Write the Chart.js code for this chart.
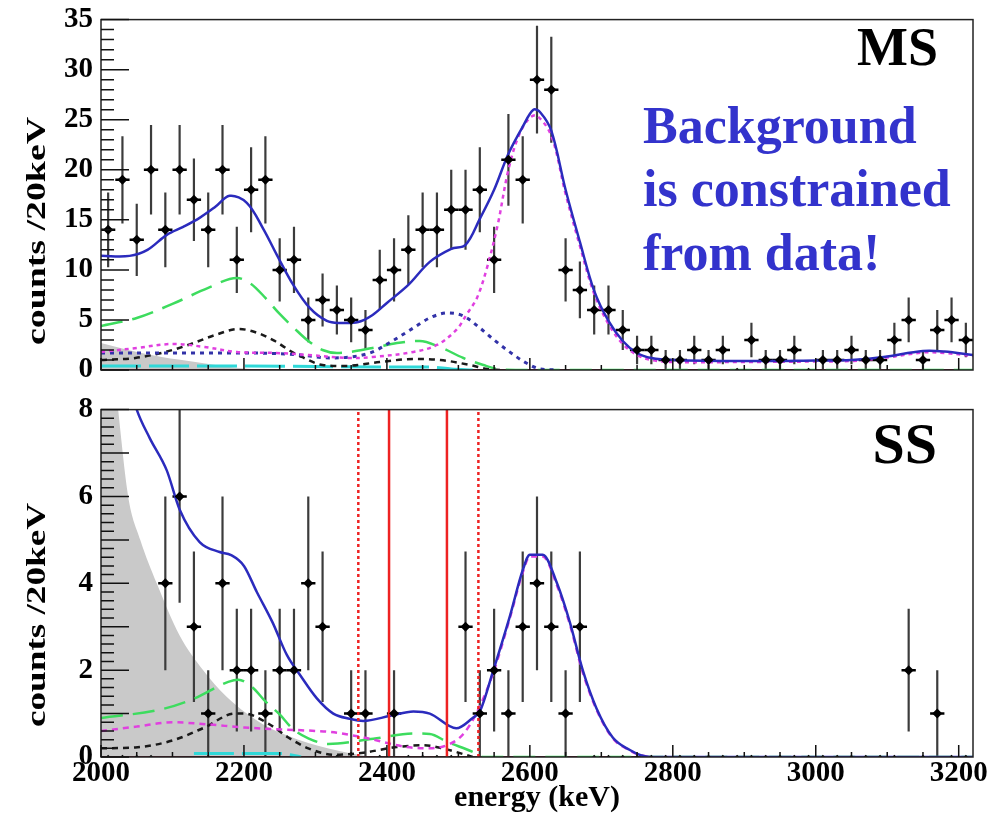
<!DOCTYPE html>
<html>
<head>
<meta charset="utf-8">
<script src="https://cdn.jsdelivr.net/npm/chart.js@4.4.1/dist/chart.umd.min.js"></script>
<style>
  body { margin: 0; background: #fff; }
  #wrap { position: relative; width: 1005px; height: 818px; }
  canvas { position: absolute; left: 0; }
  #ms { top: 0; }
  #ss { top: 390px; }
</style>
</head>
<body>
<div id="wrap">
  <canvas id="ms" width="1005" height="390"></canvas>
  <canvas id="ss" width="1005" height="428"></canvas>
</div>
<script>
// ---------------------------------------------- DATOS -------------------------------------

// bin centres (20 keV bins)
const binCenters = [
  2010, 2030, 2050, 2070, 2090, 2110, 2130, 2150, 2170, 2190,
  2210, 2230, 2250, 2270, 2290, 2310, 2330, 2350, 2370, 2390,
  2410, 2430, 2450, 2470, 2490, 2510, 2530, 2550, 2570, 2590,
  2610, 2630, 2650, 2670, 2690, 2710, 2730, 2750, 2770, 2790,
  2810, 2830, 2850, 2870, 2890, 2910, 2930, 2950, 2970, 2990,
  3010, 3030, 3050, 3070, 3090, 3110, 3130, 3150, 3170, 3190,
  3210
];

const msCounts = [
  14, 19, 13, 20, 14, 20, 17, 14, 20, 11,
  18, 19, 10, 11, 5, 7, 6, 5, 4, 9,
  10, 12, 14, 14, 16, 16, 18, 11, 21, 19,
  29, 28, 10, 8, 6, 6, 4, 2, 2, 1,
  1, 2, 1, 2, 0, 3, 1, 1, 2, 0,
  1, 1, 2, 1, 1, 3, 5, 1, 4, 5,
  3
];

const ssCounts = [
  0, 0, 0, 0, 4, 6, 3, 1, 4, 2,
  2, 1, 2, 2, 4, 3, 0, 1, 1, 0,
  1, 0, 0, 0, 0, 3, 1, 2, 1, 3,
  4, 3, 1, 3, 0, 0, 0, 0, 0, 0,
  0, 0, 0, 0, 0, 0, 0, 0, 0, 0,
  0, 0, 0, 0, 0, 0, 2, 0, 1, 0,
  0
];

// fit curves, [keV, counts/20keV]
const msTotal = [[2000, 11.4], [2040, 11.4], [2065, 12.0], [2092, 13.5], [2115, 14.3], [2138, 15.2], [2160, 16.3], [2180, 17.4], [2204, 16.7], [2227, 14.1], [2246, 11.5], [2269, 8.5], [2292, 6.2], [2316, 4.9], [2335, 4.7], [2360, 4.8], [2380, 5.5], [2400, 6.7], [2430, 8.5], [2460, 10.8], [2490, 12.1], [2510, 12.5], [2530, 15.1], [2550, 18.0], [2570, 21.6], [2590, 24.3], [2605, 26.0], [2615, 25.7], [2630, 23.9], [2650, 18.0], [2670, 12.8], [2690, 7.9], [2710, 4.9], [2730, 2.9], [2750, 1.7], [2770, 1.2], [2800, 1.0], [2900, 0.9], [3000, 0.95], [3050, 1.0], [3095, 1.3], [3150, 1.9], [3180, 1.85], [3220, 1.5]];
const msPink = [[2000, 1.8], [2050, 2.2], [2100, 2.6], [2145, 2.3], [2190, 1.8], [2245, 1.7], [2290, 1.5], [2345, 1.2], [2380, 1.3], [2437, 1.8], [2470, 2.5], [2497, 4.0], [2512, 5.6], [2526, 7.2], [2540, 10.2], [2555, 14.5], [2570, 20.0], [2585, 23.5], [2600, 25.2], [2610, 25.4], [2630, 23.4], [2650, 17.6], [2670, 12.4], [2690, 7.6], [2710, 4.6], [2730, 2.6], [2750, 1.5], [2770, 1.0], [2800, 0.8], [2900, 0.8], [3000, 0.85], [3050, 0.9], [3095, 1.2], [3150, 1.75], [3180, 1.7], [3220, 1.4]];
const msNavy = [[2000, 1.7], [2100, 1.7], [2200, 1.7], [2280, 1.5], [2320, 1.2], [2376, 1.7], [2410, 3.0], [2437, 4.2], [2460, 5.2], [2485, 5.7], [2507, 5.4], [2530, 4.2], [2550, 3.0], [2568, 2.0], [2595, 0.7], [2615, 0.1], [2640, 0]];
const msGreen = [[2000, 4.4], [2050, 5.2], [2100, 6.6], [2150, 8.2], [2190, 9.2], [2210, 8.6], [2230, 7.2], [2250, 5.6], [2270, 4.2], [2290, 2.9], [2310, 2.0], [2330, 1.7], [2380, 2.2], [2414, 2.7], [2446, 2.9], [2474, 2.3], [2507, 1.2], [2535, 0.5], [2555, 0.1], [2580, 0], [3220, 0]];
const msBlack = [[2000, 1.0], [2048, 1.2], [2090, 1.8], [2122, 2.5], [2160, 3.5], [2192, 4.1], [2215, 3.8], [2243, 2.9], [2265, 1.9], [2281, 1.3], [2310, 0.5], [2340, 0.4], [2390, 0.8], [2437, 1.1], [2475, 1.0], [2516, 0.5], [2540, 0.1], [2560, 0]];
const msCyan = [[2000, 0.4], [2200, 0.4], [2300, 0.35], [2400, 0.3], [2460, 0.3], [2490, 0.1], [2520, 0]];
const msGrey = [[2000, 2.7], [2038, 2.0], [2085, 1.3], [2132, 0.8], [2160, 0.5], [2200, 0.15], [2230, 0]];

const ssTotal = [[2000, 10.8], [2030, 9.2], [2050, 8.0], [2068, 7.35], [2092, 6.6], [2110, 5.7], [2138, 4.95], [2166, 4.72], [2182, 4.65], [2200, 4.4], [2218, 3.8], [2240, 3.1], [2260, 2.35], [2278, 1.9], [2302, 1.35], [2325, 1.0], [2348, 0.88], [2367, 0.83], [2405, 0.95], [2437, 1.05], [2460, 1.0], [2497, 0.66], [2520, 0.9], [2530, 1.05], [2548, 1.95], [2572, 3.24], [2590, 4.3], [2600, 4.66], [2618, 4.66], [2638, 4.0], [2656, 3.1], [2674, 2.0], [2693, 1.13], [2716, 0.45], [2740, 0.16], [2755, 0.04], [2770, 0], [3220, 0]];
const ssPink = [[2000, 0.6], [2050, 0.7], [2100, 0.8], [2150, 0.75], [2200, 0.68], [2300, 0.6], [2320, 0.58], [2367, 0.45], [2428, 0.23], [2460, 0.2], [2488, 0.3], [2507, 0.53], [2525, 1.0], [2548, 1.9], [2572, 3.2], [2590, 4.25], [2600, 4.62], [2618, 4.62], [2638, 3.95], [2656, 3.05], [2674, 1.95], [2693, 1.1], [2716, 0.43], [2740, 0.15], [2755, 0.04], [2770, 0]];
const ssGreen = [[2000, 0.9], [2085, 1.1], [2131, 1.35], [2178, 1.73], [2192, 1.78], [2212, 1.6], [2230, 1.28], [2250, 0.98], [2268, 0.65], [2290, 0.43], [2318, 0.3], [2381, 0.42], [2437, 0.54], [2460, 0.53], [2484, 0.35], [2520, 0.12], [2535, 0], [3220, 0]];
const ssBlack = [[2000, 0.2], [2048, 0.22], [2100, 0.38], [2145, 0.68], [2187, 1.0], [2200, 1.0], [2234, 0.77], [2262, 0.45], [2290, 0.2], [2327, 0.05], [2367, 0.1], [2414, 0.23], [2451, 0.27], [2478, 0.2], [2500, 0.1], [2520, 0]];
const ssCyan = [[2130, 0.08], [2250, 0.08], [2280, 0]];
const ssGrey = [[2000, 12], [2024, 8], [2038, 6], [2055, 5], [2078, 4], [2110, 2.8], [2143, 2], [2175, 1.4], [2204, 1.0], [2230, 0.72], [2260, 0.5], [2290, 0.32], [2317, 0.2], [2350, 0.08], [2380, 0]];
const zeroLine = [[2000, 0], [3220, 0]];

// window lines (keV)
const roiSolid = [2403, 2484];
const roiDotted = [2360, 2528];

// tick labels
const xTicks = [2000, 2200, 2400, 2600, 2800, 3000, 3200];
const msYTicks = [0, 5, 10, 15, 20, 25, 30, 35];
const ssYTicks = [0, 2, 4, 6, 8];

// ---------------------------------------------- DATASETS -------------------------------------

const pts = arr => arr.map(p => ({ x: p[0], y: p[1] }));

// smooth spline; curves that settle onto zero use monotone so they don't dip below the axis
function curve(data, color, width, dash, mono) {
  return {
    data: pts(data), borderColor: color, borderWidth: width, borderDash: dash || [],
    pointRadius: 0, fill: false,
    cubicInterpolationMode: mono ? 'monotone' : 'default', tension: 0.35
  };
}

function area(data) {
  return {
    data: pts(data), borderWidth: 0, borderColor: 'rgba(0,0,0,0)', backgroundColor: '#c9c9c9',
    pointRadius: 0, fill: 'origin', cubicInterpolationMode: 'monotone'
  };
}

function vline(e, top, dash) {
  return {
    data: [{ x: e, y: 0 }, { x: e, y: top }], borderColor: '#ee2222', borderWidth: 2.5,
    borderDash: dash || [], pointRadius: 0, fill: false
  };
}

function histo(counts) {
  return {
    data: binCenters.map((e, i) => ({ x: e, y: counts[i] })),
    showLine: false, pointStyle: 'rectRot',
    pointRadius: c => (c.raw && c.raw.y > 0 ? 5 : 2.2),
    pointBackgroundColor: '#000', pointBorderWidth: 0
  };
}

// ---------------------------------------------- DIBUJO -------------------------------------

function drawErrors(chart) {
  const { ctx, chartArea: a, scales: { x, y } } = chart;
  ctx.save();
  ctx.beginPath();
  ctx.rect(a.left, a.top, a.right - a.left, a.bottom - a.top);
  ctx.clip();
  chart.data.datasets[0].data.forEach(p => {
    if (p.y <= 0) return;
    const err = Math.sqrt(p.y); // Poisson error on the counts
    const px = x.getPixelForValue(p.x);
    const py = y.getPixelForValue(p.y);
    ctx.strokeStyle = '#3c3c3c';
    ctx.lineWidth = 2.2;
    ctx.beginPath();
    ctx.moveTo(px, y.getPixelForValue(p.y - err));
    ctx.lineTo(px, y.getPixelForValue(p.y + err));
    ctx.stroke();
    ctx.strokeStyle = '#000';
    ctx.lineWidth = 2.5;
    ctx.beginPath();
    ctx.moveTo(x.getPixelForValue(p.x - 10), py);
    ctx.lineTo(x.getPixelForValue(p.x + 10), py);
    ctx.stroke();
  });
  ctx.restore();
}

function drawFrame(chart, o) {
  const { ctx, chartArea: a, scales: { x, y } } = chart;
  ctx.save();
  ctx.strokeStyle = '#222';
  ctx.lineWidth = 1.5;
  ctx.strokeRect(a.left, a.top, a.right - a.left, a.bottom - a.top);
  ctx.strokeStyle = '#111';
  ctx.beginPath();
  // y ticks, pointing inwards
  const nY = Math.round((y.max - y.min) / o.yMinor);
  for (let i = 0; i <= nY; i++) {
    const py = y.getPixelForValue(y.min + i * o.yMinor);
    const len = i % o.yLongEvery === 0 ? 28 : 13;
    ctx.moveTo(a.left, py);
    ctx.lineTo(a.left + len, py);
  }
  // x ticks every 50 keV, long every 200
  for (let v = 2000; v <= x.max; v += 50) {
    const px = x.getPixelForValue(v);
    const len = v % 200 === 0 ? 12 : 5;
    ctx.moveTo(px, a.bottom);
    ctx.lineTo(px, a.bottom - len);
  }
  ctx.stroke();
  ctx.restore();
}

function drawTexts(chart, o) {
  const ctx = chart.ctx;
  ctx.save();
  o.labels.forEach(l => {
    ctx.font = l.font;
    ctx.fillStyle = l.color;
    ctx.textAlign = l.align;
    ctx.textBaseline = 'alphabetic';
    ctx.fillText(l.text, l.x, l.y);
  });
  // y title, tall narrow serif as in the plot
  const t = o.yTitle;
  ctx.translate(t.x, t.y);
  ctx.rotate(-Math.PI / 2);
  ctx.font = 'bold 27px "Liberation Serif"';
  ctx.fillStyle = '#000';
  ctx.textAlign = 'center';
  ctx.textBaseline = 'alphabetic';
  const w = ctx.measureText('counts /20keV').width;
  ctx.scale(t.len / w, 1);
  ctx.fillText('counts /20keV', 0, 0);
  ctx.restore();
}

const rootStyle = {
  id: 'rootStyle',
  afterDatasetDraw(chart, args) {
    // error bars right after the grey fill so the curves and markers sit above them
    if (args.index === chart.data.datasets.length - 1) drawErrors(chart);
  },
  afterDraw(chart, args, o) {
    drawFrame(chart, o);
    drawTexts(chart, o);
  }
};

function panelOptions(yMax, yTicks, padTop, xHeight, showX, style) {
  const tickFont = { family: 'Liberation Serif', weight: 'bold', size: 29, lineHeight: 0.8 };
  return {
    responsive: false, animation: false, devicePixelRatio: 1,
    layout: { padding: { left: 0, right: 32, top: padTop, bottom: 0 } },
    plugins: { legend: { display: false }, tooltip: { enabled: false }, rootStyle: style },
    scales: {
      x: {
        type: 'linear', min: 2000, max: 3220,
        grid: { display: false, drawTicks: false }, border: { display: false },
        ticks: {
          display: showX, padding: 2, color: '#000', maxRotation: 0, autoSkip: false,
          font: { family: 'Liberation Serif', weight: 'bold', size: 29, lineHeight: 1 },
          callback: v => String(v)
        },
        title: {
          display: showX, text: 'energy (keV)', color: '#000',
          font: { family: 'Liberation Serif', weight: 'bold', size: 30, lineHeight: 1.2 },
          padding: { top: 0, bottom: 2 }
        },
        afterBuildTicks: s => { s.ticks = xTicks.map(v => ({ value: v })); },
        afterFit: s => { s.height = xHeight; }
      },
      y: {
        min: 0, max: yMax,
        grid: { display: false, drawTicks: false }, border: { display: false },
        ticks: { padding: 8, color: '#000', font: tickFont, callback: v => String(v) },
        afterBuildTicks: s => { s.ticks = yTicks.map(v => ({ value: v })); },
        afterFit: s => { s.width = 101; }
      }
    }
  };
}

// ---------------------------------------------- MS -------------------------------------
new Chart(document.getElementById('ms'), {
  type: 'line',
  data: {
    datasets: [
      histo(msCounts),
      curve(msTotal, '#2b2bbd', 2.5),
      curve(msPink, '#e040e0', 2.5, [4, 4]),
      curve(msNavy, '#3232a8', 3, [4, 5], true),
      curve(msBlack, '#1a1a1a', 2.5, [6, 5], true),
      curve(msGreen, '#3ddc5e', 2.5, [22, 10], true),
      curve(msCyan, '#30d8d8', 3, [40, 8], true),
      curve(zeroLine, '#5c1424', 2),
      area(msGrey)
    ]
  },
  options: panelOptions(35, msYTicks, 14, 20, false, {
    yMinor: 1, yLongEvery: 5,
    yTitle: { x: 45, y: 231, len: 228 },
    labels: [
      { text: 'MS', x: 938, y: 65, font: 'bold 54px "Liberation Serif"', color: '#000', align: 'right' },
      { text: 'Background', x: 643, y: 143, font: 'bold 52px "Liberation Serif"', color: '#3333cc', align: 'left' },
      { text: 'is constrained', x: 643, y: 206, font: 'bold 52px "Liberation Serif"', color: '#3333cc', align: 'left' },
      { text: 'from data!', x: 643, y: 270, font: 'bold 52px "Liberation Serif"', color: '#3333cc', align: 'left' }
    ]
  }),
  plugins: [rootStyle]
});

// ---------------------------------------------- SS -------------------------------------
new Chart(document.getElementById('ss'), {
  type: 'line',
  data: {
    datasets: [
      histo(ssCounts),
      vline(roiSolid[0], 8),
      vline(roiSolid[1], 8),
      vline(roiDotted[0], 8, [3, 3]),
      vline(roiDotted[1], 8, [3, 3]),
      curve(ssTotal, '#2b2bbd', 2.5, [], true),
      curve(ssPink, '#e040e0', 2.5, [6, 5], true),
      curve(ssBlack, '#1a1a1a', 2.5, [6, 5], true),
      curve(ssGreen, '#3ddc5e', 2.5, [22, 10], true),
      curve(ssCyan, '#30d8d8', 3, [40, 8], true),
      curve(zeroLine, '#5c1424', 2),
      area(ssGrey)
    ]
  },
  options: panelOptions(8, ssYTicks, 12, 61, true, {
    yMinor: 0.2, yLongEvery: 5,
    yTitle: { x: 45, y: 225, len: 224 },
    labels: [
      { text: 'SS', x: 937, y: 73, font: 'bold 58px "Liberation Serif"', color: '#000', align: 'right' }
    ]
  }),
  plugins: [rootStyle]
});
</script>
</body>
</html>
